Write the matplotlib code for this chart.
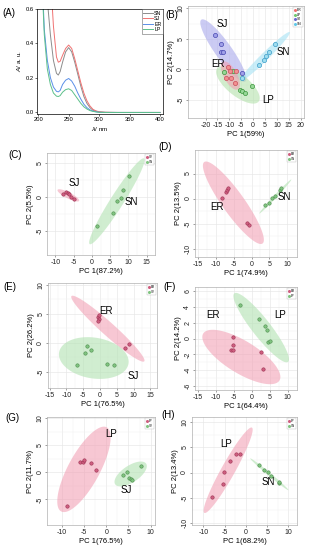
import numpy as np
import matplotlib
matplotlib.use('Agg')
import matplotlib.pyplot as plt
from matplotlib.patches import Polygon
from matplotlib.lines import Line2D

plt.rcParams['font.family'] = ['Liberation Sans', 'DejaVu Sans']

# ---------------- Panel A: UV spectra ----------------
wl = [200, 205, 210, 215, 220, 225, 230, 233, 236, 240, 245, 250, 255, 260, 265, 270,
      275, 280, 285, 290, 295, 300, 310, 330, 360, 400]
abs_SN = [2.0, 1.5, 1.0, 0.65, 0.45, 0.30, 0.225, 0.215, 0.235, 0.29, 0.35, 0.375, 0.35, 0.29,
          0.22, 0.15, 0.09, 0.05, 0.025, 0.01, 0.004, 0.0, -0.002, -0.003, -0.003, -0.003]
abs_SJ = [3.0, 2.5, 2.0, 1.2, 0.8, 0.5, 0.32, 0.29, 0.295, 0.33, 0.37, 0.39, 0.37, 0.31,
          0.24, 0.17, 0.11, 0.065, 0.035, 0.015, 0.006, 0.001, -0.002, -0.003, -0.003, -0.003]
abs_ER = [1.5, 0.9, 0.48, 0.3, 0.2, 0.145, 0.12, 0.117, 0.125, 0.16, 0.185, 0.195, 0.18, 0.15,
          0.11, 0.075, 0.045, 0.025, 0.012, 0.005, 0.001, -0.002, -0.003, -0.003, -0.003, -0.003]
abs_LP = [1.5, 0.85, 0.45, 0.25, 0.16, 0.11, 0.092, 0.09, 0.095, 0.115, 0.13, 0.135, 0.125, 0.1,
          0.075, 0.05, 0.03, 0.017, 0.008, 0.003, 0.0, -0.002, -0.003, -0.003, -0.003, -0.003]
A_names = ['SN', 'SJ', 'ER', 'LP']
A_colors = ['#8C8C8C', '#F07272', '#5A8FE8', '#5DC08A']

# ---------------- Panel B ----------------
B_ER_x = [-10.6, -9.8, -11.6, -9.5, -7.8, -7.4]
B_ER_y = [0.43, -0.27, -1.4, -1.5, -2.2, -0.27]
B_LP_x = [-12.4, -5.4, -4.6, -3.6, -0.5, -8.6]
B_LP_y = [-0.43, -3.4, -3.6, -3.9, -2.7, -0.2]
B_SJ_x = [-15.9, -13.7, -13.4, -12.6, -4.7]
B_SJ_y = [5.65, 4.1, 2.8, 2.8, -0.55]
B_SN_x = [-4.6, 2.5, 4.4, 5.5, 6.7, 9.1]
B_SN_y = [-1.5, 0.65, 1.5, 2.2, 2.8, 4.1]
B_ell = {'SJ': [-21.8, 8.15, -3.3, -2.0, 0.22], 'SN': [-5.7, -2.0, 15.4, 6.1, 0.11],
         'LP': [-15.1, 0.16, 2.3, -5.3, 0.41], 'ER': [-12.7, 1.25, -6.4, -3.3, 0.42]}

# ---------------- Panel C ----------------
C_SJ_x = [-8.0, -7.1, -6.5, -6.4, -5.7, -4.8]
C_SJ_y = [0.44, 0.83, 0.59, 0.5, 0.0, -0.25]
C_SN_x = [1.5, 5.8, 6.9, 7.9, 8.5, 10.2]
C_SN_y = [-4.3, -2.35, -0.54, -0.15, 1.08, 3.14]
C_ell_SJ = [-9.4, 1.08, -3.5, -0.54, 0.25]
C_ell_SN = [-0.6, -6.9, 14.3, 5.7, 0.13]

# ---------------- Panel D ----------------
D_ER_x = [-8.4, -7.3, -7.0, -6.6, -1.2, -0.6]
D_ER_y = [0.2, 1.3, 1.7, 2.2, -4.9, -5.2]
D_SN_x = [3.9, 5.0, 5.9, 6.5, 7.9, 8.2]
D_SN_y = [-1.3, -0.8, 0.2, 0.47, 1.8, 2.1]
D_ell_ER = [-13.3, 7.3, 3.1, -9.0, 0.22]
D_ell_SN = [2.2, -3.0, 11.2, 3.8, 0.06]

# ---------------- Panel E ----------------
E_ER_x = [-0.5, -0.4, -0.7, -0.3, 7.5, 8.8]
E_ER_y = [4.44, 4.06, 3.7, 4.7, -0.83, -0.28]
E_SJ_x = [-3.8, -4.5, -2.8, -7.0, 2.0, 4.3]
E_SJ_y = [-0.55, -1.8, -1.3, -3.8, -3.7, -3.8]
E_ell_ER = [-8.5, 8.05, 13.2, -3.2, 0.135]
E_ell_SJ = [-12.2, -1.67, 8.5, -3.6, 0.58]

# ---------------- Panel F ----------------
F_LP_x = [-3.3, 1.9, 3.6, 4.2, 4.5, 5.1]
F_LP_y = [4.2, 2.5, 1.56, 1.05, -0.5, -0.34]
F_ER_x = [-5.4, -5.4, -5.8, -5.3, 2.6, 3.0]
F_ER_y = [0.2, -0.84, -1.5, -1.5, -1.7, -3.9]
F_ell_LP = [-4.9, 5.7, 10.1, -2.95, 0.21]
F_ell_ER = [-13.6, 0.63, 7.7, -5.3, 0.36]

# ---------------- Panel G ----------------
G_LP_x = [-8.9, -6.0, -5.3, -5.1, -3.5, -2.4]
G_LP_y = [-6.2, 1.9, 1.9, 2.3, 1.8, 0.4]
G_SJ_x = [3.7, 4.6, 5.1, 5.6, 5.7, 7.8]
G_SJ_y = [-0.4, 0.0, -1.0, -1.25, -1.4, 1.1]
G_ell_LP = [-10.2, -7.2, 0.1, 8.3, 0.33]
G_ell_SJ = [2.0, -2.2, 9.0, 1.6, 0.45]

# ---------------- Panel H ----------------
H_LP_x = [-8.0, -5.3, -5.1, -3.7, -2.3, -1.3]
H_LP_y = [-4.9, -2.3, 0.13, 2.3, 3.75, 3.75]
H_SN_x = [3.0, 4.2, 5.2, 5.9, 7.7, 7.8]
H_SN_y = [1.45, 0.46, 0.07, -0.66, -2.0, -1.8]
H_ell_LP = [-9.8, -8.0, 1.4, 8.9, 0.14]
H_ell_SN = [1.0, 2.8, 10.0, -3.5, 0.06]

W, H = 310, 550
fig = plt.figure(figsize=(3.1, 5.5), dpi=100)


def add_ax(l, r, t, b):
    return fig.add_axes([l / W, 1 - b / H, (r - l) / W, (b - t) / H])


def ellipse(ax, prm, color, alpha=0.55, z=1):
    x1, y1, x2, y2, ratio = prm
    T = ax.transData
    d = T.transform([[x1, y1], [x2, y2]])
    c = d.mean(0)
    a = (d[1] - d[0]) / 2
    b = np.array([-a[1], a[0]]) * ratio
    t = np.linspace(0, 2 * np.pi, 120)
    pts = c + np.outer(np.cos(t), a) + np.outer(np.sin(t), b)
    ax.add_patch(Polygon(T.inverted().transform(pts), closed=True, fc=color,
                         ec='none', alpha=alpha, zorder=z))


def style_pca(ax, xlim, ylim, xticks, yticks, xlabel, ylabel):
    ax.set_xlim(xlim)
    ax.set_ylim(ylim)
    ax.set_xticks(xticks)
    ax.set_yticks(yticks)
    ax.set_xticklabels([str(v) for v in xticks])
    ax.set_yticklabels([str(v) for v in yticks])
    xm = [(xticks[i] + xticks[i + 1]) / 2 for i in range(len(xticks) - 1)]
    ym = [(yticks[i] + yticks[i + 1]) / 2 for i in range(len(yticks) - 1)]
    ax.set_xticks(xm, minor=True)
    ax.set_yticks(ym, minor=True)
    ax.grid(True, which='major', color='#E6E6E6', lw=0.45, zorder=0)
    ax.grid(True, which='minor', color='#F0F0F0', lw=0.3, zorder=0)
    ax.set_axisbelow(True)
    for s in ax.spines.values():
        s.set_color('#B0B0B0')
        s.set_linewidth(0.5)
    ax.tick_params(which='major', labelsize=5, length=1.5, width=0.4, color='#555555',
                   pad=1.2, labelcolor='#222222')
    ax.tick_params(which='minor', length=0)
    ax.tick_params(axis='y', labelrotation=90)
    for lb in ax.get_yticklabels():
        lb.set_va('center')
    ax.set_xlabel(xlabel, fontsize=5.5, labelpad=1.5)
    ax.set_ylabel(ylabel, fontsize=5.5, labelpad=1.5)


def tiny_legend(ax, names, colors, fs=2.2):
    hs = [Line2D([], [], marker='o', ls='none', ms=1.2, color=c) for c in colors]
    lg = ax.legend(hs, names, loc='upper right', fontsize=fs, frameon=True, fancybox=False,
                   borderpad=0.3, handletextpad=0.2, handlelength=0.8, labelspacing=0.15,
                   borderaxespad=0.4)
    lg.get_frame().set_linewidth(0.3)
    lg.get_frame().set_edgecolor('#AAAAAA')


PINK_E, GREEN_E = '#F2A2B6', '#B2E2B2'
PINK_F, PINK_EC = '#CF5F80', '#9A2E50'
GREEN_F, GREEN_EC = '#80C480', '#4C8C4C'

# ---- A ----
axA = add_ax(37, 163, 9, 114)
for yv, nm, col in zip([abs_SN, abs_SJ, abs_ER, abs_LP], A_names, A_colors):
    axA.plot(wl, yv, color=col, lw=0.7, label=nm)
axA.set_xlim(198, 405)
axA.set_ylim(-0.012, 0.6)
axA.set_xticks([200, 250, 300, 350, 400])
axA.set_yticks([0.0, 0.2, 0.4, 0.6])
axA.set_yticklabels(['0.0', '0.2', '0.4', '0.6'])
axA.tick_params(labelsize=4.2, length=1.5, width=0.4, pad=1)
for s in axA.spines.values():
    s.set_linewidth(0.5)
axA.set_xlabel(r'$\lambda$/ nm', fontsize=4.5, labelpad=1.5)
axA.set_ylabel(r'$A$/ a. u.', fontsize=4.5, labelpad=2)
lg = axA.legend(loc='upper right', fontsize=3.8, frameon=True, fancybox=False,
                borderpad=0.3, handlelength=1.8, labelspacing=0.1, handletextpad=0.3,
                borderaxespad=0.0)
lg.get_frame().set_linewidth(0.4)
lg.get_frame().set_edgecolor('#444444')

# ---- B ----
axB = add_ax(188, 304, 6, 118)
style_pca(axB, (-27.4, 21.4), (-8, 10.4), [-20, -15, -10, -5, 0, 5, 10, 15, 20], [-5, 0, 5, 10],
          'PC 1(59%)', 'PC 2(14.7%)')
ellipse(axB, B_ell['SJ'], '#A9A9EC', 0.6)
ellipse(axB, B_ell['SN'], '#A6E2F4', 0.6)
ellipse(axB, B_ell['LP'], '#B4E2AC', 0.6)
ellipse(axB, B_ell['ER'], '#F2A0B2', 0.6)
for xs, ys, fc, ec in [(B_SJ_x, B_SJ_y, '#A0A0E8', '#4646B0'), (B_SN_x, B_SN_y, '#A0DEF0', '#3A9CC8'),
                       (B_LP_x, B_LP_y, '#98D898', '#3C963C'), (B_ER_x, B_ER_y, '#F29090', '#C84C5C')]:
    axB.scatter(xs, ys, s=9, c=fc, edgecolors=ec, linewidths=0.5, zorder=3)
for t, x, y in [('SJ', -13, 7.5), ('SN', 12.6, 2.9), ('ER', -14.8, 0.8), ('LP', 6.2, -5.1)]:
    axB.text(x, y, t, fontsize=7, ha='center', va='center', zorder=4)
tiny_legend(axB, ['ER', 'LP', 'SJ', 'SN'], ['#F07070', '#70C870', '#6A6AD0', '#60C8E8'], fs=2.4)


def pca_panel(rect, lims, ticks, labels, ell_list, pts_list, txt, legnames):
    ax = add_ax(*rect)
    style_pca(ax, lims[0], lims[1], ticks[0], ticks[1], labels[0], labels[1])
    for prm, col in ell_list:
        ellipse(ax, prm, col, 0.6)
    for xs, ys, fc, ec in pts_list:
        ax.scatter(xs, ys, s=6, c=fc, edgecolors=ec, linewidths=0.4, zorder=3)
    for t, x, y in txt:
        ax.text(x, y, t, fontsize=7, ha='center', va='center', zorder=4)
    tiny_legend(ax, legnames, [PINK_F, GREEN_F])
    return ax


pca_panel((47, 155, 153, 255), ((-12.3, 17.3), (-8.5, 6.5)),
          ([-10, -5, 0, 5, 10, 15], [-5, 0, 5]), ('PC 1(87.2%)', 'PC 2(5.5%)'),
          [(C_ell_SJ, PINK_E), (C_ell_SN, GREEN_E)],
          [(C_SJ_x, C_SJ_y, PINK_F, PINK_EC), (C_SN_x, C_SN_y, GREEN_F, GREEN_EC)],
          [('SJ', -4.8, 2.06), ('SN', 10.9, -0.64)], ['SJ', 'SN'])

pca_panel((195, 297, 150, 257), ((-15.9, 12.8), (-11.7, 9.7)),
          ([-15, -10, -5, 0, 5, 10], [-10, -5, 0, 5]), ('PC 1(74.9%)', 'PC 2(13.5%)'),
          [(D_ell_ER, PINK_E), (D_ell_SN, GREEN_E)],
          [(D_ER_x, D_ER_y, PINK_F, PINK_EC), (D_SN_x, D_SN_y, GREEN_F, GREEN_EC)],
          [('ER', -9.8, -1.7), ('SN', 9.1, 0.2)], ['ER', 'SN'])

pca_panel((48, 157, 283, 388), ((-15.5, 17), (-7.8, 10.3)),
          ([-15, -10, -5, 0, 5, 10, 15], [-5, 0, 5, 10]), ('PC 1(76.5%)', 'PC 2(26.2%)'),
          [(E_ell_ER, PINK_E), (E_ell_SJ, GREEN_E)],
          [(E_ER_x, E_ER_y, PINK_F, PINK_EC), (E_SJ_x, E_SJ_y, GREEN_F, GREEN_EC)],
          [('ER', 1.8, 5.55), ('SJ', 10, -5.7)], ['ER', 'SJ'])

pca_panel((195, 297, 287, 390), ((-15.9, 12.6), (-6.5, 6.5)),
          ([-15, -10, -5, 0, 5, 10], [-6, -4, -2, 0, 2, 4, 6]), ('PC 1(64.4%)', 'PC 2(14.2%)'),
          [(F_ell_LP, GREEN_E), (F_ell_ER, PINK_E)],
          [(F_LP_x, F_LP_y, GREEN_F, GREEN_EC), (F_ER_x, F_ER_y, PINK_F, PINK_EC)],
          [('ER', -11, 2.95), ('LP', 8, 2.95)], ['ER', 'LP'])

pca_panel((47, 155, 417, 525), ((-13.4, 11), (-9.7, 10.2)),
          ([-10, -5, 0, 5, 10], [-5, 0, 5, 10]), ('PC 1(76.5%)', 'PC 2(11.7%)'),
          [(G_ell_LP, PINK_E), (G_ell_SJ, GREEN_E)],
          [(G_LP_x, G_LP_y, PINK_F, PINK_EC), (G_SJ_x, G_SJ_y, GREEN_F, GREEN_EC)],
          [('LP', 1.2, 7.1), ('SJ', 4.6, -3.3)], ['LP', 'SJ'])

pca_panel((192, 297, 417, 525), ((-12.7, 12), (-10.4, 11)),
          ([-10, -5, 0, 5, 10], [-10, -5, 0, 5, 10]), ('PC 1(68.2%)', 'PC 2(13.4%)'),
          [(H_ell_LP, PINK_E), (H_ell_SN, GREEN_E)],
          [(H_LP_x, H_LP_y, PINK_F, PINK_EC), (H_SN_x, H_SN_y, GREEN_F, GREEN_EC)],
          [('LP', -4.7, 5.7), ('SN', 5.2, -1.85)], ['LP', 'SN'])

for t, x, y in [('(A)', 9, 13), ('(B)', 172, 15), ('(C)', 15, 155), ('(D)', 165, 147),
                ('(E)', 10, 287), ('(F)', 170, 287), ('(G)', 12, 418), ('(H)', 168, 415)]:
    fig.text(x / W, 1 - y / H, t, fontsize=7, ha='center', va='center')

fig.savefig('out.png', dpi=100)
